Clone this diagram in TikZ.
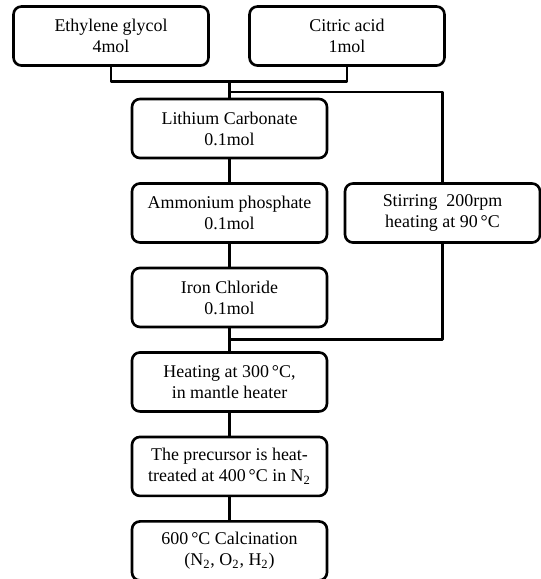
\documentclass[tikz,border=0pt]{standalone}
\usepackage{fontspec}
\setmainfont{Liberation Serif}
\usetikzlibrary{positioning}
\newcommand{\degC}{\textdegree C}
\begin{document}
\begin{tikzpicture}[x=0.02cm, y=-0.02cm, line join=round, line width=1.5pt, node distance=0.51cm,
		font=\fontsize{10.2}{12}\selectfont,
		box/.style={draw, rounded corners=4.5pt, minimum width=3.9cm, minimum height=1.18cm, align=center, inner sep=1pt, outer sep=0pt}]
			\useasboundingbox (0,0) rectangle (541,579);
			% raw materials
			\node[box] (eg) at (111,36) {Ethylene glycol\\4mol};
			\node[box] (ca) at (347,36) {Citric acid\\1mol};
			% main column
			\node[box] (li) at (229.5,128.5) {Lithium Carbonate\\0.1mol};
			\node[box, below=of li] (am) {Ammonium phosphate\\0.1mol};
			\node[box, below=of am] (fe) {Iron Chloride\\0.1mol};
			\node[box, below=of fe] (ht) {Heating at 300\,\degC,\\in mantle heater};
			\node[box, below=of ht] (pr) {The precursor is heat-\\treated at 400\,\degC{} in N\textsubscript{2}};
			\node[box, below=of pr] (cal) {600\,\degC{} Calcination\\(N\textsubscript{2}, O\textsubscript{2}, H\textsubscript{2})};
			\node[box] (st) at (442.5,213) {Stirring\ \ 200rpm\\heating at 90\,\degC};
			% connectors
			\draw (eg.south) -- ++(0,16) coordinate (j) -| (ca.south);
			\draw (li.north) -- (li.north |- j);
			\path (li.north) ++(0,-7) coordinate (b);
			\draw (b) -| (st.north);
			\path (fe.south) -- (ht.north) coordinate[midway] (m);
			\draw (st.south) |- (m);
			\foreach \u/\v in {li/am, am/fe, fe/ht, ht/pr, pr/cal}{
				\draw (\u) -- (\v);
			}
		\end{tikzpicture}
\end{document}
